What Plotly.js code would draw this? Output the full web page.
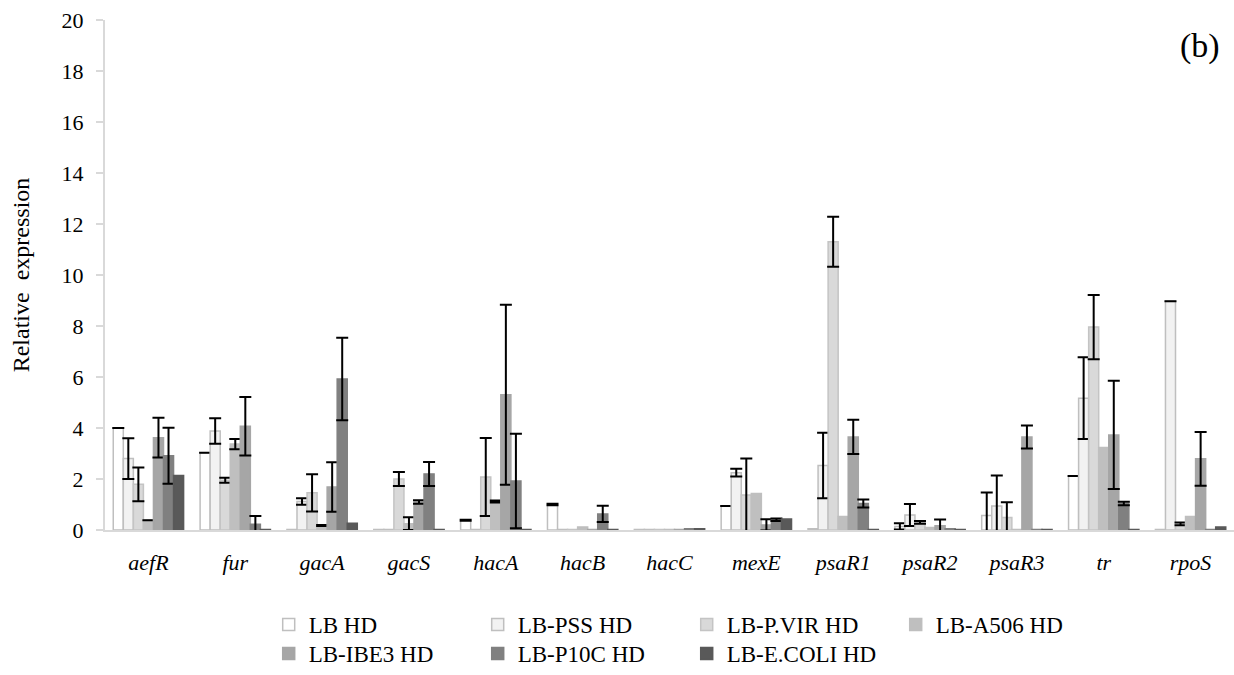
<!DOCTYPE html>
<html>
<head>
<meta charset="utf-8">
<script src="https://cdn.plot.ly/plotly-3.0.1.min.js"></script>
<style>html,body{margin:0;padding:0;background:#fff}#chart{width:1234px;height:675px}</style>
</head>
<body>
<div id="chart"></div>
<script>
const genes = ['aefR','fur','gacA','gacS','hacA','hacB','hacC','mexE','psaR1','psaR2','psaR3','tr','rpoS'];
const seriesNames = ['LB HD','LB-PSS HD','LB-P.VIR HD','LB-A506 HD','LB-IBE3 HD','LB-P10C HD','LB-E.COLI HD'];

const lbHD      = [4.0, 3.03, 0.02, 0.02, 0.38, 1.0, 0.02, 0.94, 0.05, 0.14, 0.57, 2.12, 0.02];
const lbHDErr   = [0, 0, null, null, 0.02, 0.03, null, 0, null, 0.12, 0.9, 0, null];
const lbPSS     = [2.8, 3.88, 1.12, 0.02, 0.02, 0.02, 0.02, 2.25, 2.53, 0.59, 0.94, 5.17, 8.97];
const lbPSSErr  = [0.8, 0.5, 0.13, null, null, null, null, 0.15, 1.28, 0.43, 1.2, 1.6, 0];
const lbPVIR    = [1.79, 1.95, 1.46, 2.0, 2.08, 0.02, 0.02, 1.37, 11.3, 0.3, 0.49, 7.96, 0.24];
const lbPVIRErr = [0.66, 0.1, 0.73, 0.27, 1.53, null, null, 1.43, 0.98, 0.05, 0.6, 1.26, 0.05];
const lbA506    = [0.38, 3.37, 0.18, 0.25, 1.12, 0.12, 0.02, 1.43, 0.53, 0.1, 0.02, 3.24, 0.53];
const lbA506Err = [0, 0.2, 0.02, 0.25, 0.04, null, null, null, null, null, null, null, null];
const lbIBE3    = [3.62, 4.07, 1.69, 1.1, 5.3, 0.02, 0.02, 0.2, 3.65, 0.17, 3.65, 3.73, 2.79];
const lbIBE3Err = [0.78, 1.15, 0.97, 0.07, 3.53, null, null, 0.22, 0.67, 0.24, 0.45, 2.12, 1.05];
const lbP10C    = [2.91, 0.23, 5.92, 2.2, 1.92, 0.63, 0.05, 0.4, 1.04, 0.05, 0.02, 1.04, 0.02];
const lbP10CErr = [1.1, 0.32, 1.62, 0.47, 1.85, 0.32, null, 0.05, 0.16, null, null, 0.07, null];
const lbECOLI   = [2.14, 0.02, 0.26, 0.02, 0.02, 0.02, 0.05, 0.43, 0.02, 0.02, 0.02, 0.02, 0.12];
const lbECOLIErr= [null, null, null, null, null, null, null, null, null, null, null, null, null];

const values = [lbHD, lbPSS, lbPVIR, lbA506, lbIBE3, lbP10C, lbECOLI];
const errs = [lbHDErr, lbPSSErr, lbPVIRErr, lbA506Err, lbIBE3Err, lbP10CErr, lbECOLIErr];
const fills = ['#ffffff','#f2f2f2','#d9d9d9','#bfbfbf','#a6a6a6','#808080','#595959'];
const lines = ['#bfbfbf','#bfbfbf','#c4c4c4','#bfbfbf','#a6a6a6','#808080','#595959'];
const font = 'Liberation Serif';

const traces = seriesNames.map((name, i) => ({
  type: 'bar',
  name: name,
  x: genes,
  y: values[i],
  legend: i < 4 ? 'legend' : 'legend2',
  marker: {color: fills[i], line: {color: lines[i], width: 1.5}},
  error_y: {
    type: 'data', symmetric: true,
    array: errs[i].map(v => v === null ? NaN : v),
    color: '#000000', thickness: 2, width: 6
  },
  hoverinfo: 'x+y+name'
}));

const legendCommon = {
  orientation: 'h', xanchor: 'left', yanchor: 'top',
  font: {family: font, size: 23, color: '#000'},
  entrywidth: 164, entrywidthmode: 'pixels',
  traceorder: 'normal', bgcolor: 'rgba(0,0,0,0)', itemclick: false
};

const layout = {
  width: 1234, height: 675,
  margin: {l: 105, r: 0, t: 20, b: 138},
  paper_bgcolor: '#ffffff', plot_bgcolor: '#ffffff',
  font: {family: font, color: '#000'},
  barmode: 'group', bargap: 0.19, bargroupgap: 0,
  xaxis: {
    type: 'category',
    tickfont: {family: font, size: 22, color: '#000', style: 'italic'},
    showline: true, linecolor: '#d9d9d9', linewidth: 2,
    ticks: '', showgrid: false, zeroline: false,
    ticklabelstandoff: 12
  },
  yaxis: {
    range: [0, 20], dtick: 2, tick0: 0,
    tickfont: {family: font, size: 22, color: '#000'},
    showline: true, linecolor: '#d9d9d9', linewidth: 2,
    ticks: 'outside', ticklen: 7, tickcolor: '#d9d9d9', tickwidth: 2,
    showgrid: false, zeroline: false,
    ticklabelstandoff: 8,
    title: {text: 'Relative&nbsp; expression', font: {family: font, size: 24, color: '#000'}, standoff: 25}
  },
  legend: Object.assign({}, legendCommon, {x: 0.145, y: -0.143}),
  legend2: Object.assign({}, legendCommon, {x: 0.145, y: -0.200}),
  annotations: [{
    text: '(b)', xref: 'paper', yref: 'paper', x: 0.97, y: 0.95,
    xanchor: 'center', yanchor: 'middle', showarrow: false,
    font: {family: font, size: 34, color: '#000'}
  }]
};

Plotly.newPlot('chart', traces, layout, {displayModeBar: false});
</script>
</body>
</html>
